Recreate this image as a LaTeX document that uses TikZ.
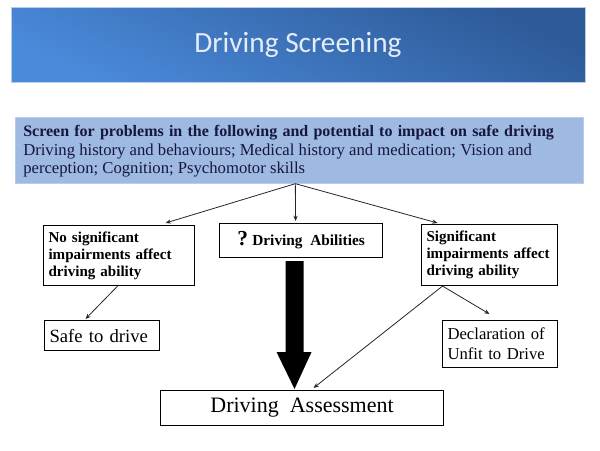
\documentclass[tikz,border=0pt]{standalone}
\usepackage{fontspec}
\setmainfont{Liberation Serif}
\newfontfamily\titlefont{Carlito}
\usetikzlibrary{arrows.meta,calc}
\definecolor{bannerdark}{RGB}{46,90,152}
\definecolor{bannerlight}{RGB}{74,138,218}
\definecolor{screenfill}{RGB}{158,186,226}
\definecolor{screenedge}{RGB}{185,205,232}
\definecolor{navy}{RGB}{22,22,62}
\definecolor{titletext}{RGB}{228,236,248}
\begin{document}
\begin{tikzpicture}[x=0.75pt,y=-0.75pt,
  box/.style={draw=black,line width=0.8pt,inner xsep=3.75pt,inner ysep=0pt,anchor=north west,align=left},
  boldtxt/.style={font=\fontsize{11.3}{12.75}\selectfont\bfseries},
  conn/.style={draw=black!85,line width=0.6pt,-{Stealth[length=4pt,width=3.2pt]}},
  line/.style={anchor=base west,inner sep=0pt,text=navy}]
\useasboundingbox (0,0) rectangle (600,450);
\fill[white] (0,0) rectangle (600,450);
% banner
\node[anchor=north west,inner sep=0pt,minimum width=430.5pt,minimum height=56.25pt,
      top color=bannerdark,bottom color=bannerlight,shading angle=-25,draw=screenedge,line width=0.4pt] (banner) at (11,7) {};
\node[anchor=base,inner sep=0pt,text=titletext,font=\titlefont\fontsize{22}{26}\selectfont] (title) at (298,52) {Driving Screening};
% screening box
\node[anchor=north west,inner sep=0pt,minimum width=426pt,minimum height=49.5pt,fill=screenfill,draw=screenedge,line width=0.5pt] (screen) at (15,117) {};
\node[line,font=\fontsize{12}{14}\selectfont\bfseries] (l1) at (23,136) {\makebox[398pt][s]{Screen for problems in the following and potential to impact on safe driving}};
\node[line,font=\fontsize{12.5}{14}\selectfont] (l2) at (23,155) {Driving history and behaviours; Medical history and medication; Vision and};
\node[line,font=\fontsize{12.5}{14}\selectfont] (l3) at (23,173.5) {perception; Cognition; Psychomotor skills};
% second level boxes
\node[box,boldtxt,minimum width=113.25pt,text width=105.75pt,minimum height=45pt] (nobox) at (43,225) {No significant\\impairments affect\\driving ability};
\node[box,minimum width=122.25pt,minimum height=25.5pt,align=center] (abil) at (219,223) {{\fontsize{16}{16}\selectfont\bfseries ?} {\fontsize{11.5}{12}\selectfont\bfseries Driving~~Abilities}};
\node[box,boldtxt,minimum width=102pt,text width=94.5pt,minimum height=45.75pt] (sigbox) at (421,224) {Significant\\impairments affect\\driving ability};
% third level
\node[box,minimum width=86.25pt,text width=78.75pt,minimum height=22.5pt,font=\fontsize{14}{16}\selectfont] (safe) at (44,320) {Safe to~drive};
\node[box,minimum width=86.25pt,text width=78.75pt,minimum height=35.25pt,font=\fontsize{12.5}{15}\selectfont] (decl) at (442,320) {Declaration of\\Unfit to Drive};
\node[box,minimum width=212.25pt,minimum height=26.25pt,align=center,font=\fontsize{16.5}{18}\selectfont] (assess) at (160,390) {Driving~~Assessment};
% connectors
\coordinate (hub) at ([xshift=-3pt]screen.south);
\draw[conn] (hub) -- ([xshift=34.9pt,yshift=1.5pt]nobox.north);
\draw[conn] (hub) -- ([xshift=-4.1pt,yshift=1.5pt]abil.north);
\draw[conn] (hub) -- ([xshift=-39pt,yshift=0.75pt]sigbox.north);
\draw[conn] ([xshift=-1.1pt]nobox.south) -- ([xshift=-12.4pt,yshift=0.75pt]safe.north);
\coordinate (sigfoot) at ([xshift=-35.25pt]sigbox.south);
\draw[conn] (sigfoot) -- ([xshift=-7.9pt,yshift=4.5pt]decl.north);
\draw[conn] (sigfoot) -- ([xshift=8.6pt,yshift=1.5pt]assess.north);
% fat arrow
\coordinate (fatstart) at ($(abil.south)+(-6.5,3)$);
\coordinate (fattip) at ($(assess.north)+(-7.5,-1)$);
\fill[black] ($(fatstart)+(-9,0)$) -- ($(fatstart)+(9,0)$) -- ($(fattip)+(9,-37)$) -- ($(fattip)+(17,-37)$)
  -- (fattip) -- ($(fattip)+(-18,-37)$) -- ($(fattip)+(-9,-37)$) -- cycle;
\end{tikzpicture}
\end{document}
